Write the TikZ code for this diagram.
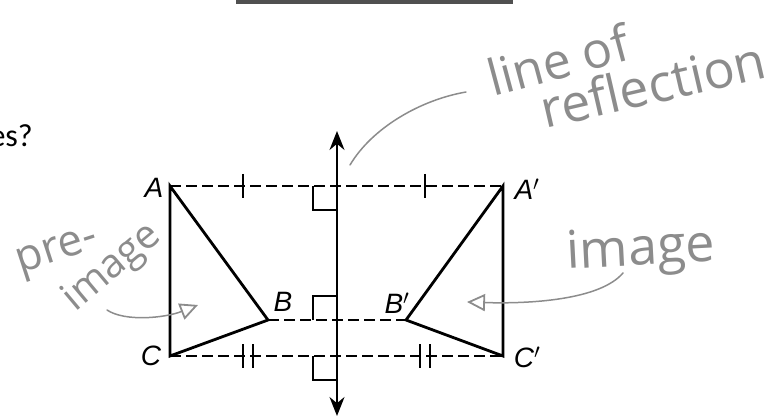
\documentclass[tikz,border=0pt]{standalone}
\usepackage{fontspec}
\setmainfont{Liberation Sans}
\newfontfamily\handfont{Open Sans}
\newfontfamily\qfont{Carlito}
\usetikzlibrary{arrows.meta}
\definecolor{handgray}{RGB}{140,140,140}
\definecolor{bargray}{RGB}{80,80,80}
\begin{document}
\begin{tikzpicture}[x=1pt,y=-1pt,
  figline/.style={line width=2.8pt, line join=miter, line cap=round},
  dashline/.style={line width=1.6pt, dash pattern=on 11pt off 5pt},
  tickmark/.style={line width=1.6pt},
  anglebox/.style={line width=1.6pt},
  axisline/.style={line width=1.8pt, {Stealth[length=19pt,width=15pt]}-{Stealth[length=19pt,width=15pt]}},
  lbl/.style={font=\fontsize{28}{28}\selectfont\itshape, inner sep=0pt},
  hand/.style={text=handgray, inner sep=0pt},
  handline/.style={draw=handgray, line width=1.5pt, line cap=round},
  handarrow/.style={handline, -{Triangle[open,length=18pt,width=17pt,line width=1.8pt]}}
]
\useasboundingbox (0,0) rectangle (772,417);
\fill[bargray] (236,0) rectangle (513,4);
\node[font=\qfont\fontsize{32}{32}\selectfont, anchor=base east, inner sep=0pt] (q) at (33,147) {es?};

% points
\coordinate (A) at (170,186);
\coordinate (B) at (268,320);
\coordinate (C) at (170,356);
\coordinate (A2) at (503,186);
\coordinate (B2) at (406,320);
\coordinate (C2) at (503,356);
\coordinate (axtop) at (337,131);
\coordinate (axbot) at (337,416);
\coordinate (mA) at (337,186);
\coordinate (mB) at (337,320);
\coordinate (mC) at (337,356);

% dashed segments
\draw[dashline] (A) -- (A2);
\draw[dashline] (B) -- (B2);
\draw[dashline] (C) -- (C2);

% ticks
\coordinate (t1) at (243,186);
\coordinate (t2) at (425,186);
\draw[tickmark] (t1) ++(0,-12) -- ++(0,24);
\draw[tickmark] (t2) ++(0,-12) -- ++(0,24);
\coordinate (t3) at (243,356);
\coordinate (t4) at (253,356);
\coordinate (t5) at (420,356);
\coordinate (t6) at (430,356);
\foreach \t in {t3,t4,t5,t6} \draw[tickmark] (\t) ++(0,-12) -- ++(0,24);

% right-angle boxes
\draw[anglebox] (mA) ++(-24,0) -- ++(0,24) -- ++(24,0);
\draw[anglebox] (mB) ++(-24,0) -- ++(0,-24) -- ++(24,0);
\draw[anglebox] (mC) ++(-24,0) -- ++(0,24) -- ++(24,0);

% axis
\draw[axisline] (axbot) -- (axtop);

% triangles
\draw[figline] (A) -- (B) -- (C) -- cycle;
\draw[figline] (A2) -- (B2) -- (C2) -- cycle;

% labels
\node[lbl] (lA) at (154,188) {A};
\node[lbl] (lB) at (283,302) {B};
\node[lbl] (lC) at (151,356) {C};
\node[lbl] (lA2) at (527,189) {A$'$};
\node[lbl] (lB2) at (397,303) {B$'$};
\node[lbl] (lC2) at (527,357) {C$'$};

% handwritten notes
\node[hand, font=\handfont\fontsize{50}{50}\selectfont, rotate=15] (h1) at (558,60) {line of};
\node[hand, font=\handfont\fontsize{52}{52}\selectfont, rotate=13] (h2) at (653,84) {reflection};
\node[hand, font=\handfont\fontsize{52}{52}\selectfont, rotate=3] (h3) at (641,252) {image};
\node[hand, font=\handfont\fontsize{44}{44}\selectfont, rotate=18] (h4) at (58,254) {pre-};
\node[hand, font=\handfont\fontsize{40}{40}\selectfont, rotate=40] (h5) at (113,268) {image};

\coordinate (c1s) at (350,165);
\coordinate (c1e) at (466,92);
\draw[handline] (c1s) .. controls (372,128) and (420,100) .. (c1e);
\coordinate (c2s) at (107,310);
\coordinate (c2e) at (198,305);
\draw[handarrow] (c2s) .. controls (125,322) and (165,318) .. (c2e);
\coordinate (c3s) at (623,273);
\coordinate (c3e) at (467,302);
\draw[handarrow] (c3s) .. controls (600,300) and (530,304) .. (c3e);
\end{tikzpicture}
\end{document}
